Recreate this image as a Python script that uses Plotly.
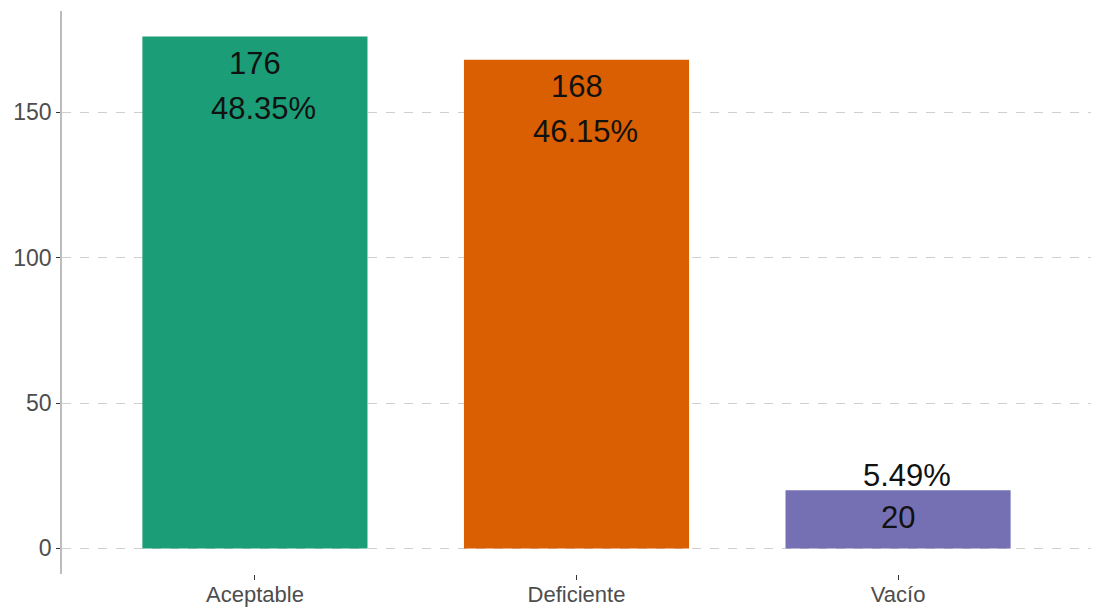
import plotly.graph_objects as go

# Counts per category
categories = ["Aceptable", "Deficiente", "Vacío"]
counts = [176, 168, 20]
bar_colors = ["#1B9E77", "#D95F02", "#7570B3"]
y_ticks = [0, 50, 100, 150]

total = sum(counts)
pct_labels = [f"{c / total * 100:.2f}%" for c in counts]

fig = go.Figure()
fig.add_trace(go.Bar(
    x=categories,
    y=counts,
    width=0.7,
    marker=dict(color=bar_colors, line=dict(width=0)),
    hoverinfo="skip",
))

label_font = dict(family="Liberation Sans, Arial, sans-serif", size=31, color="#111111")

for cat, n, pct in zip(categories, counts, pct_labels):
    # count label just inside the top of the bar
    fig.add_annotation(x=cat, y=n, text=str(n), showarrow=False,
                       yshift=-27, font=label_font, yanchor="middle")
    # percentage: inside tall bars, above short bars
    inside = n > 50
    fig.add_annotation(x=cat, y=n, text=pct, showarrow=False,
                       xshift=9, yshift=-72 if inside else 15,
                       font=label_font, yanchor="middle")

fig.update_layout(
    width=1096, height=611,
    margin=dict(l=62, r=5, t=11, b=37),
    paper_bgcolor="white", plot_bgcolor="white",
    showlegend=False,
    bargap=0.3,
    font=dict(family="Liberation Sans, Arial, sans-serif"),
)

fig.update_xaxes(
    range=[-0.6, 2.6],
    automargin=False,
    showgrid=False, zeroline=False, showline=False,
    ticks="outside", ticklen=5, tickwidth=1.2, tickcolor="#333333",
    ticklabelstandoff=-4,
    tickfont=dict(size=22, color="#4d4d4d"),
)

fig.update_yaxes(
    range=[-8.8, 184.8],
    automargin=False,
    tickvals=y_ticks,
    showgrid=True, gridcolor="#cfcfcf", gridwidth=1, griddash="dash",
    zeroline=False,
    showline=True, linecolor="#bdbdbd", linewidth=1.5,
    ticks="outside", ticklen=4, tickwidth=1.2, tickcolor="#333333",
    tickfont=dict(size=23, color="#4d4d4d"),
)

fig.write_html("out.html")
